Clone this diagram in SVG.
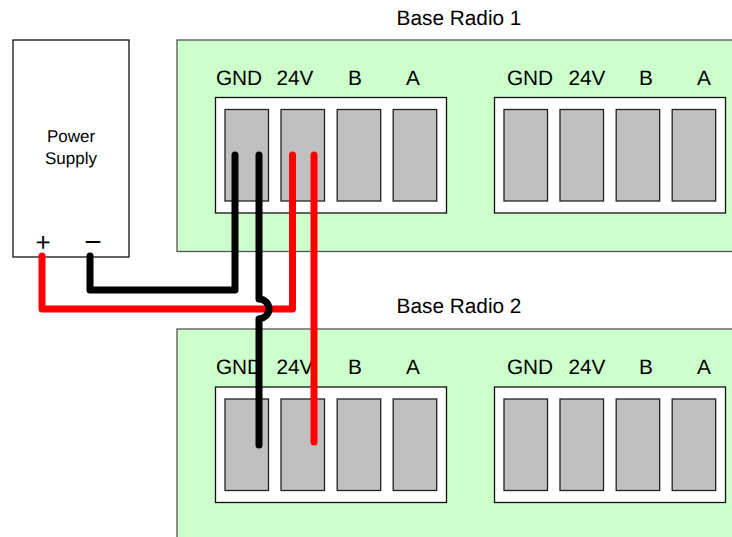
<svg xmlns="http://www.w3.org/2000/svg" width="732" height="537" viewBox="0 0 732 537">
<style>
text{font-family:"Liberation Sans",Arial,sans-serif;fill:#000;text-anchor:middle;text-rendering:geometricPrecision}
.l{font-size:20.8px}
.s{font-size:17px}
.p{font-size:26px}
.m{font-size:30px}
.board{fill:#ccffcc;stroke:#555;stroke-width:1.3}
.strip{fill:#fff;stroke:#111;stroke-width:1.3}
.t{fill:#c0c0c0;stroke:#222;stroke-width:1.3}
.w{fill:none;stroke-width:7;stroke-linecap:round;stroke-linejoin:round}
.r{stroke:#ff0000}
.b{stroke:#000}
</style>
<defs>
<g id="terms">
<rect class="strip" x="0" y="0" width="231" height="115.500"/>
<rect class="t" x="9.500" y="12" width="43.500" height="91.500"/>
<rect class="t" x="65.500" y="12" width="43.500" height="91.500"/>
<rect class="t" x="121.700" y="12" width="43.500" height="91.500"/>
<rect class="t" x="177.700" y="12" width="43.500" height="91.500"/>
</g>
</defs>
<g id="power-supply">
<rect x="13" y="40" width="116" height="217" fill="#fff" stroke="#111" stroke-width="1.300"/>
<text class="s" x="71" y="142">Power</text>
<text class="s" x="71" y="164">Supply</text>
<text class="p" x="43" y="251">+</text>
<text class="m" x="93" y="252">−</text>
</g>
<g id="base-radio-1">
<text class="l" x="459" y="25">Base Radio 1</text>
<rect class="board" x="177" y="40" width="570" height="211.500"/>
<use href="#terms" x="215.500" y="97.500"/>
<use href="#terms" x="494.500" y="97.500"/>
<text class="l" x="239" y="85">GND</text>
<text class="l" x="295" y="85">24V</text>
<text class="l" x="355" y="85">B</text>
<text class="l" x="413" y="85">A</text>
<text class="l" x="530" y="85">GND</text>
<text class="l" x="587" y="85">24V</text>
<text class="l" x="646" y="85">B</text>
<text class="l" x="704" y="85">A</text>
</g>
<g id="base-radio-2">
<text class="l" x="459" y="313">Base Radio 2</text>
<rect class="board" x="177" y="329" width="570" height="220"/>
<use href="#terms" x="215.500" y="387"/>
<use href="#terms" x="494.500" y="387"/>
<text class="l" x="239" y="374">GND</text>
<text class="l" x="295" y="374">24V</text>
<text class="l" x="355" y="374">B</text>
<text class="l" x="413" y="374">A</text>
<text class="l" x="530" y="374">GND</text>
<text class="l" x="587" y="374">24V</text>
<text class="l" x="646" y="374">B</text>
<text class="l" x="704" y="374">A</text>
</g>
<g id="connectors">
<path class="w r" d="M42 256V309H292.500V155"/>
<path class="w b" d="M90 256V290H235V155"/>
<path class="w r" d="M314 155V442"/>
<path class="w b" d="M259 155V299C265 299 269 304 269 309C269 314 265 318 259 319V445"/>
</g>
</svg>
